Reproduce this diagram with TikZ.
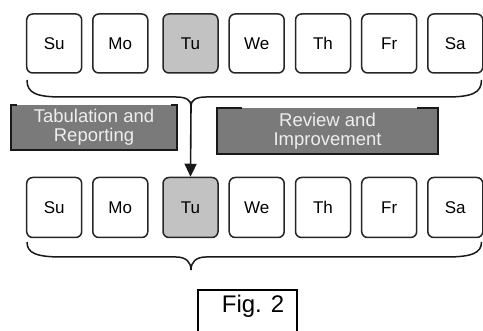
\documentclass[tikz,border=0pt]{standalone}
\usepackage{fontspec}
\setmainfont{Liberation Sans}
\usetikzlibrary{arrows.meta}
\definecolor{tufill}{HTML}{C2C2C2}
\definecolor{graybox}{HTML}{7A7A7A}
\definecolor{graytext}{HTML}{EEEEEE}
\begin{document}
\begin{tikzpicture}[x=1pt,y=-1pt,
  daybox/.style={draw=black!85, line width=1.5pt, rounded corners=6pt, minimum width=55pt, minimum height=59pt, fill=white, inner sep=0pt, font=\fontsize{17}{19}\selectfont},
  tubox/.style={daybox, fill=tufill},
  phasebox/.style={fill=graybox, inner sep=0pt, text=graytext, align=center, font=\fontsize{18.5}{19}\selectfont},
  edge/.style={line width=1.6pt, draw=black!90},
  bracel/.style={line width=1.5pt, draw=black!90}]
\useasboundingbox (0,0) rectangle (483,331);
% top row
\foreach \n/\x/\t in {su/54.2/Su, mo/120.3/Mo, we/256.7/We, th/323/Th, fr/389.2/Fr, sa/455.3/Sa}
  \node[daybox] (t\n) at (\x,43.5) {\t};
\node[tubox] (ttu) at (190.5,43.5) {Tu};
% bottom row
\foreach \n/\x/\t in {su/54.2/Su, mo/120.3/Mo, we/256.7/We, th/323/Th, fr/389.2/Fr, sa/455.3/Sa}
  \node[daybox, minimum height=60pt] (b\n) at (\x,207.5) {\t};
\node[tubox, minimum height=60pt] (btu) at (190.5,207.5) {Tu};
% top brace
\coordinate (tbl) at (27,80);
\coordinate (tbr) at (481.5,80);
\coordinate (tbt) at (191,106);
\draw[bracel] (tbl) .. controls (27,93) and (36,97) .. (62,97) -- (176,97) .. controls (186,97) and (191,100) .. (tbt);
\draw[bracel] (tbr) .. controls (481.5,93) and (472,97) .. (446,97) -- (206,97) .. controls (196,97) and (191,100) .. (tbt);
% bottom brace
\coordinate (bbl) at (27,242);
\coordinate (bbr) at (481.5,242);
\coordinate (bbt) at (191,270);
\draw[bracel] (bbl) .. controls (27,253) and (36,257) .. (62,257) -- (176,257) .. controls (186,257) and (191,262) .. (bbt);
\draw[bracel] (bbr) .. controls (481.5,253) and (472,257) .. (446,257) -- (206,257) .. controls (196,257) and (191,262) .. (bbt);
% arrow
\draw[edge, -{Triangle[width=12pt,length=13pt]}] (tbt) -- (btu.north);
% phase boxes
\node[phasebox, minimum width=166pt, minimum height=45pt] (tab) at (94,127.5) {Tabulation and\\Reporting};
\draw[edge] ([xshift=6pt]tab.north west) -- (tab.north west) -- (tab.south west) -- (tab.south east) -- (tab.north east) -- ([xshift=-6pt]tab.north east);
\node[phasebox, minimum width=221pt, minimum height=46pt] (rev) at (327.5,131) {Review and\\Improvement};
\draw[edge] ([xshift=25pt]rev.north west) -- (rev.north west) -- (rev.south west) -- (rev.south east) -- (rev.north east) -- ([xshift=-21pt]rev.north east);
% figure label
\node[font=\fontsize{24}{26}\selectfont, inner sep=0pt] (fig) at (253,306) {Fig. 2};
\coordinate (fbl) at (198,331);
\coordinate (fbr) at (297,331);
\draw[line width=1.5pt] (fbl) -- (198,290) -- (297,290) -- (fbr);
\end{tikzpicture}
\end{document}
